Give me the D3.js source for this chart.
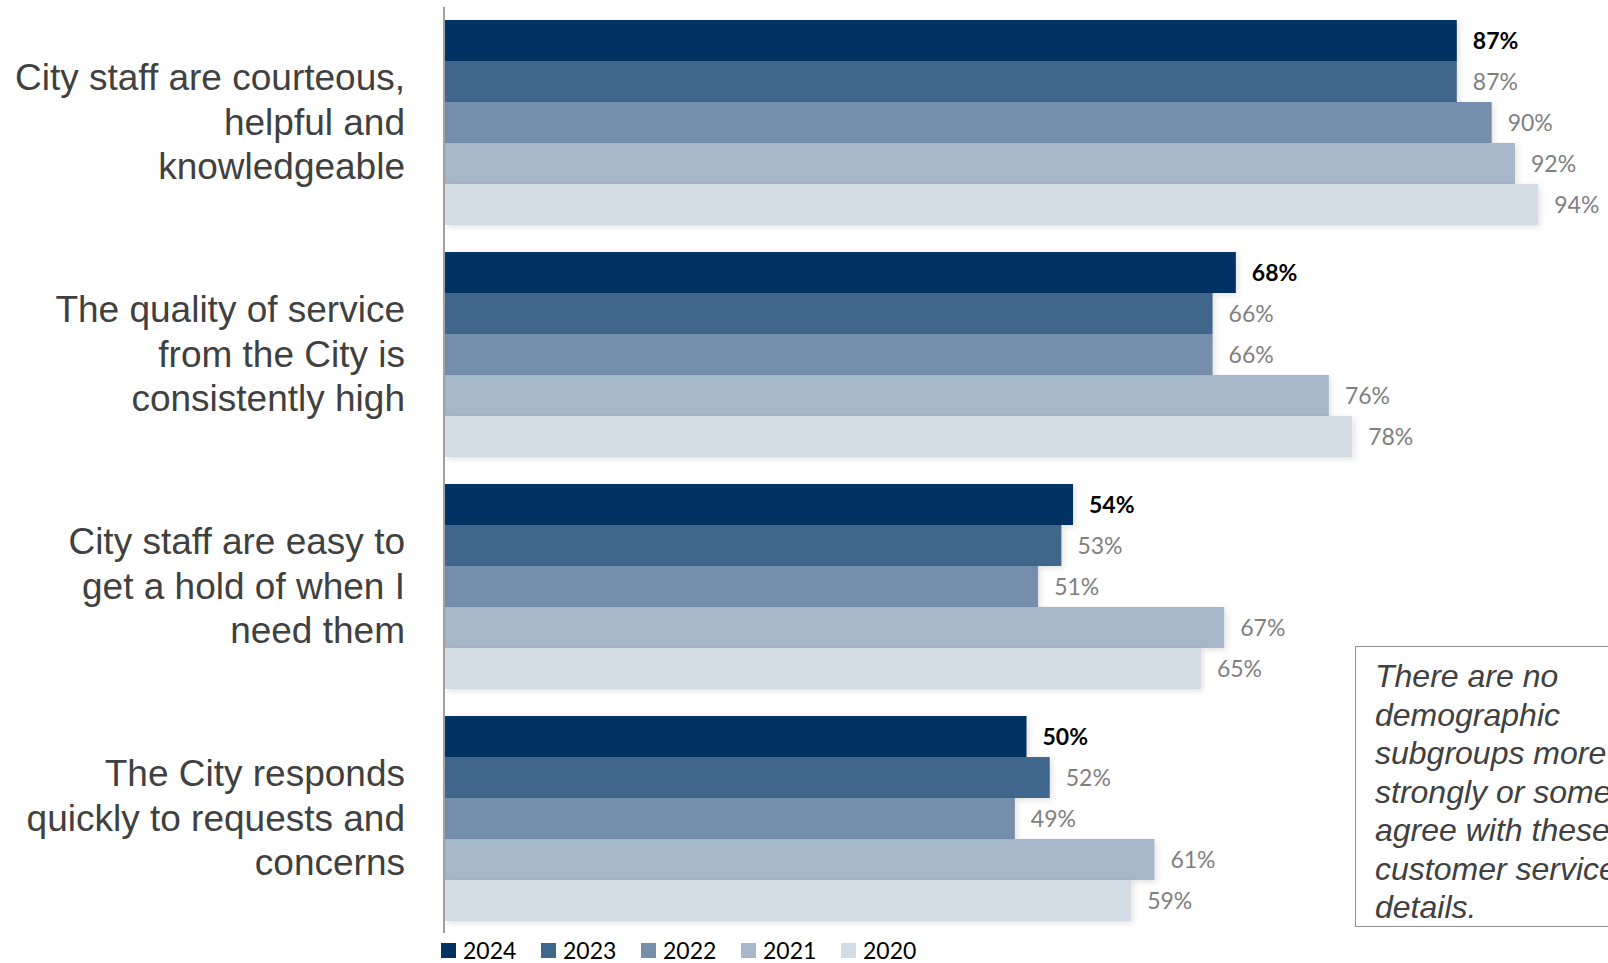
<!DOCTYPE html>
<html>
<head>
<meta charset="utf-8">
<script src="https://cdn.jsdelivr.net/npm/d3@7"></script>
<style>
  body { margin: 0; background: #fff; }
  svg { display: block; }
</style>
</head>
<body>
<svg width="1608" height="963"></svg>
<script>
let categories = [
  ["City staff are courteous,", "helpful and", "knowledgeable"],
  ["The quality of service", "from the City is", "consistently high"],
  ["City staff are easy to", "get a hold of when I", "need them"],
  ["The City responds", "quickly to requests and", "concerns"]
];

let years = ["2024", "2023", "2022", "2021", "2020"];

let v2024 = [87, 68, 54, 50],
    v2023 = [87, 66, 53, 52],
    v2022 = [90, 66, 51, 49],
    v2021 = [92, 76, 67, 61],
    v2020 = [94, 78, 65, 59];

let noteLines = [
  "There are no",
  "demographic",
  "subgroups more",
  "strongly or somewhat",
  "agree with these",
  "customer service",
  "details."
];

let series = [v2024, v2023, v2022, v2021, v2020];
let colors = ["#003263", "#41668b", "#748eab", "#a7b7ca", "#d3dbe5"];

let svg = d3.select("svg"),
    width = +svg.attr("width"),
    height = +svg.attr("height");

let x = d3.scaleLinear().domain([0, 100]).range([445, 1608]);

let y = d3.scaleBand()
    .domain(d3.range(categories.length))
    .range([20, 921])
    .paddingInner(27 / 232)
    .paddingOuter(0);

let yy = d3.scaleBand()
    .domain(years)
    .range([0, y.bandwidth()]);

let color = d3.scaleOrdinal().domain(years).range(colors);

let defs = svg.append("defs");
let shadow = defs.append("filter")
    .attr("id", "shadow")
    .attr("x", "-5%").attr("y", "-20%")
    .attr("width", "110%").attr("height", "160%");
shadow.append("feDropShadow")
    .attr("dx", 2).attr("dy", 2)
    .attr("stdDeviation", 3)
    .attr("flood-color", "#000")
    .attr("flood-opacity", 0.12);

let rows = [];
categories.forEach(function(c, i) {
  years.forEach(function(yr, j) {
    rows.push({ cat: i, year: yr, value: series[j][i] });
  });
});

let groups = svg.append("g").attr("class", "groups")
  .selectAll("g")
  .data(d3.range(categories.length))
  .enter().append("g")
    .attr("transform", function(i) { return "translate(0," + y(i) + ")"; });

groups.selectAll("rect")
    .data(function(i) { return rows.filter(function(d) { return d.cat === i; }); })
  .enter().append("rect")
    .attr("x", x(0))
    .attr("y", function(d) { return yy(d.year); })
    .attr("width", function(d) { return x(d.value) - x(0); })
    .attr("height", yy.bandwidth())
    .attr("fill", function(d) { return color(d.year); })
    .attr("filter", "url(#shadow)");

groups.selectAll("text.value")
    .data(function(i) { return rows.filter(function(d) { return d.cat === i; }); })
  .enter().append("text")
    .attr("class", "value")
    .attr("x", function(d) { return x(d.value) + 16; })
    .attr("y", function(d) { return yy(d.year) + yy.bandwidth() / 2; })
    .attr("dy", "0.36em")
    .style("font-family", "Lato, 'Open Sans', sans-serif")
    .style("font-size", "23px")
    .style("font-weight", function(d) { return d.year === "2024" ? "bold" : "normal"; })
    .attr("fill", function(d) { return d.year === "2024" ? "#000" : "#7f7f7f"; })
    .text(function(d) { return d.value + "%"; });

// category labels
let labels = svg.append("g")
  .selectAll("text")
  .data(categories)
  .enter().append("text")
    .attr("text-anchor", "end")
    .attr("fill", "#404040")
    .style("font-family", "'Liberation Sans', Arial, sans-serif")
    .style("font-size", "37px");

labels.selectAll("tspan")
    .data(function(d, i) { return d.map(function(s, k) { return { s: s, k: k, i: i, n: d.length }; }); })
  .enter().append("tspan")
    .attr("x", 405)
    .attr("y", function(d) { return y(d.i) + y.bandwidth() / 2 + (d.k - (d.n - 1) / 2) * 44.5; })
    .attr("dy", "0.33em")
    .text(function(d) { return d.s; });

// axis line
svg.append("line")
    .attr("x1", 444).attr("x2", 444)
    .attr("y1", 7).attr("y2", 933)
    .attr("stroke", "#a0a0a0")
    .attr("stroke-width", 2);

// legend
let legend = svg.append("g")
  .selectAll("g")
  .data(years)
  .enter().append("g")
    .attr("transform", function(d, i) { return "translate(" + (441 + i * 100) + ",943)"; });

legend.append("rect")
    .attr("width", 15)
    .attr("height", 15)
    .attr("fill", color);

legend.append("text")
    .attr("x", 22)
    .attr("y", 16)
    .style("font-family", "Lato, 'Open Sans', sans-serif")
    .style("font-size", "23px")
    .attr("fill", "#000")
    .text(function(d) { return d; });

// note box
let note = svg.append("g");
note.append("rect")
    .attr("x", 1355.5).attr("y", 646.5)
    .attr("width", 300).attr("height", 280)
    .attr("fill", "none")
    .attr("stroke", "#222")
    .attr("stroke-dasharray", "1,1");

note.append("text")
    .attr("fill", "#404040")
    .style("font-family", "'Liberation Sans', Arial, sans-serif")
    .style("font-size", "32px")
    .style("font-style", "italic")
  .selectAll("tspan")
  .data(noteLines)
  .enter().append("tspan")
    .attr("x", 1375)
    .attr("y", function(d, i) { return 687 + i * 38.5; })
    .text(function(d) { return d; });
</script>
</body>
</html>
